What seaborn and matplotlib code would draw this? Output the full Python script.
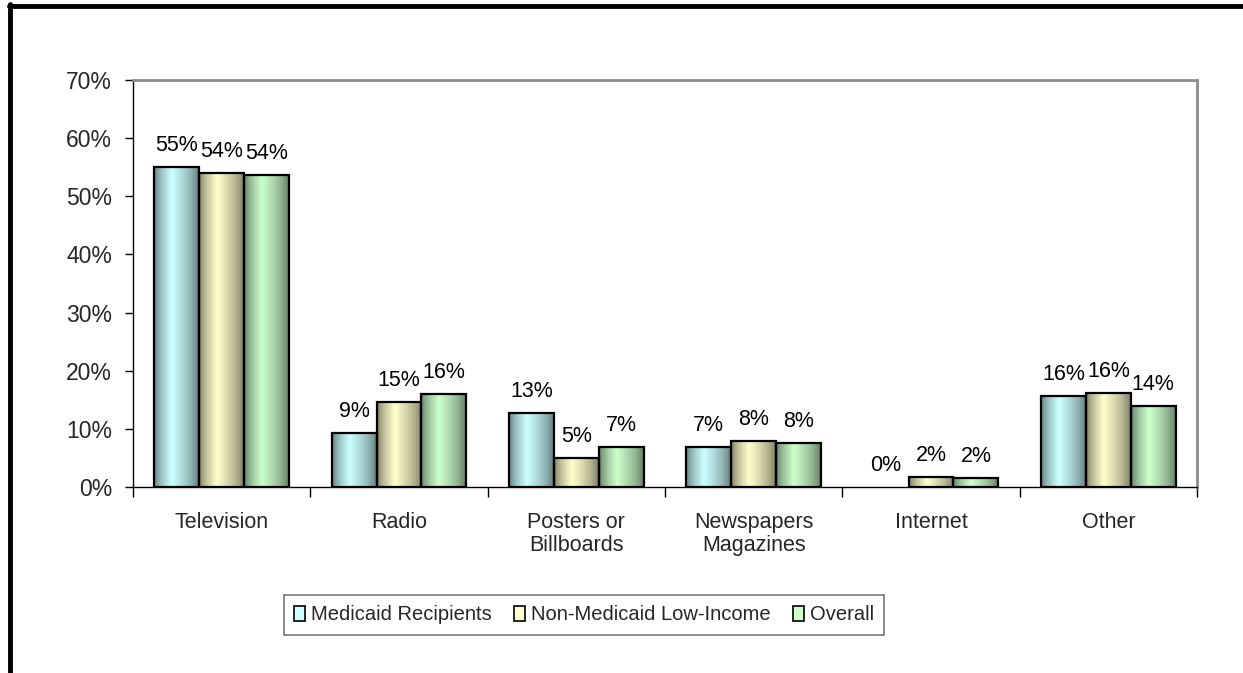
import numpy as np
import pandas as pd
import matplotlib
matplotlib.use("Agg")
import matplotlib.pyplot as plt
from matplotlib.lines import Line2D
from matplotlib.patches import Patch
from matplotlib.colors import to_rgb
import seaborn as sns

categories = ["Television", "Radio", "Posters or\nBillboards", "Newspapers\nMagazines", "Internet", "Other"]
series = ["Medicaid Recipients", "Non-Medicaid Low-Income", "Overall"]
medicaid = [55.0, 9.3, 12.7, 6.9, 0.0, 15.6]
non_medicaid = [54.0, 14.6, 5.0, 7.9, 1.8, 16.2]
overall = [53.7, 16.0, 6.9, 7.6, 1.5, 14.0]
yticks = [0, 10, 20, 30, 40, 50, 60, 70]

light = ["#CCFFFF", "#FFFFCC", "#CCFFCC"]

df = pd.DataFrame({
    "category": categories * 3,
    "series": [series[0]] * 6 + [series[1]] * 6 + [series[2]] * 6,
    "value": medicaid + non_medicaid + overall,
})

sns.set_theme(style="white")
plt.rcParams["font.family"] = ["Liberation Sans", "DejaVu Sans"]

fig = plt.figure(figsize=(12.43, 6.73), dpi=100)
ax = fig.add_axes([133 / 1243, 1 - 487 / 673, (1197 - 133) / 1243, (487 - 80) / 673])

sns.barplot(data=df, x="category", y="value", hue="series", order=categories,
            hue_order=series, palette=light, width=0.76, edgecolor="black",
            linewidth=1.6, saturation=1, legend=False, ax=ax)

n = len(categories)
bars = list(ax.patches[: 3 * n])

# gradient fills for bars (Excel-like cylinder shading)
t = np.linspace(0, 1, 128)
peak = 0.40
w = np.where(t < peak, t / peak, (1 - t) / (1 - peak))
w = np.clip(w, 0, 1) ** 0.65
for i, patch in enumerate(bars):
    s = i // n
    lc = np.array(to_rgb(light[s]))
    dc = lc * 0.45
    grad = dc[None, :] * (1 - w[:, None]) + lc[None, :] * w[:, None]
    img = np.repeat(grad[None, :, :], 2, axis=0)
    x0 = patch.get_x()
    h = patch.get_height()
    patch.set_facecolor("none")
    patch.set_zorder(3)
    if h <= 0:
        patch.set_linewidth(0)
        continue
    ax.imshow(img, extent=(x0, x0 + patch.get_width(), 0, h), aspect="auto",
              interpolation="bilinear", zorder=2.5, origin="lower")

ax.set_xlim(-0.5, n - 0.5)
ax.set_ylim(0, 70)

# data labels
for i, patch in enumerate(bars):
    s = i // n
    c = i % n
    v = [medicaid, non_medicaid, overall][s][c]
    xc = patch.get_x() + patch.get_width() / 2
    ax.annotate(f"{round(v)}%", (xc, v), xytext=(0, 15.5), textcoords="offset points",
                ha="center", va="center", fontsize=15.5, color="black")

ax.set_yticks(yticks)
ax.set_yticklabels([f"{v}%" for v in yticks], fontsize=16.5)
ax.set_xticks(range(n))
ax.set_xticklabels(categories, fontsize=15.5, linespacing=1.1)
ax.set_xticks(np.arange(-0.5, n, 1.0), minor=True)
ax.tick_params(axis="x", which="major", length=0, pad=18)
ax.tick_params(axis="x", which="minor", length=7, width=1, color="black", direction="out", bottom=True)
ax.tick_params(axis="y", length=6, width=1, color="black", direction="out", left=True, pad=9)
ax.set_xlabel("")
ax.set_ylabel("")

for side in ["top", "right"]:
    ax.spines[side].set_color("#8C8C8C")
    ax.spines[side].set_linewidth(2)
for side in ["left", "bottom"]:
    ax.spines[side].set_color("black")
    ax.spines[side].set_linewidth(1)

handles = [Patch(facecolor=light[k], edgecolor="black", linewidth=1.2) for k in range(3)]
leg = fig.legend(handles, series, loc="center", bbox_to_anchor=(584 / 1243, 1 - 615 / 673),
                 ncol=3, frameon=True, fancybox=False, edgecolor="#555555",
                 prop={"size": 14.5}, handlelength=0.55, handleheight=0.8,
                 handletextpad=0.3, columnspacing=1.1, borderpad=0.5)
leg.get_frame().set_linewidth(1.2)

# outer chart border (top and left visible)
fig.add_artist(Line2D([9 / 1243, 1.0], [1 - 5.5 / 673, 1 - 5.5 / 673], color="black", lw=3.5,
                      transform=fig.transFigure))
fig.add_artist(Line2D([9.5 / 1243, 9.5 / 1243], [0, 1 - 4 / 673], color="black", lw=3.5,
                      transform=fig.transFigure))

fig.savefig("out.png", dpi=100)
